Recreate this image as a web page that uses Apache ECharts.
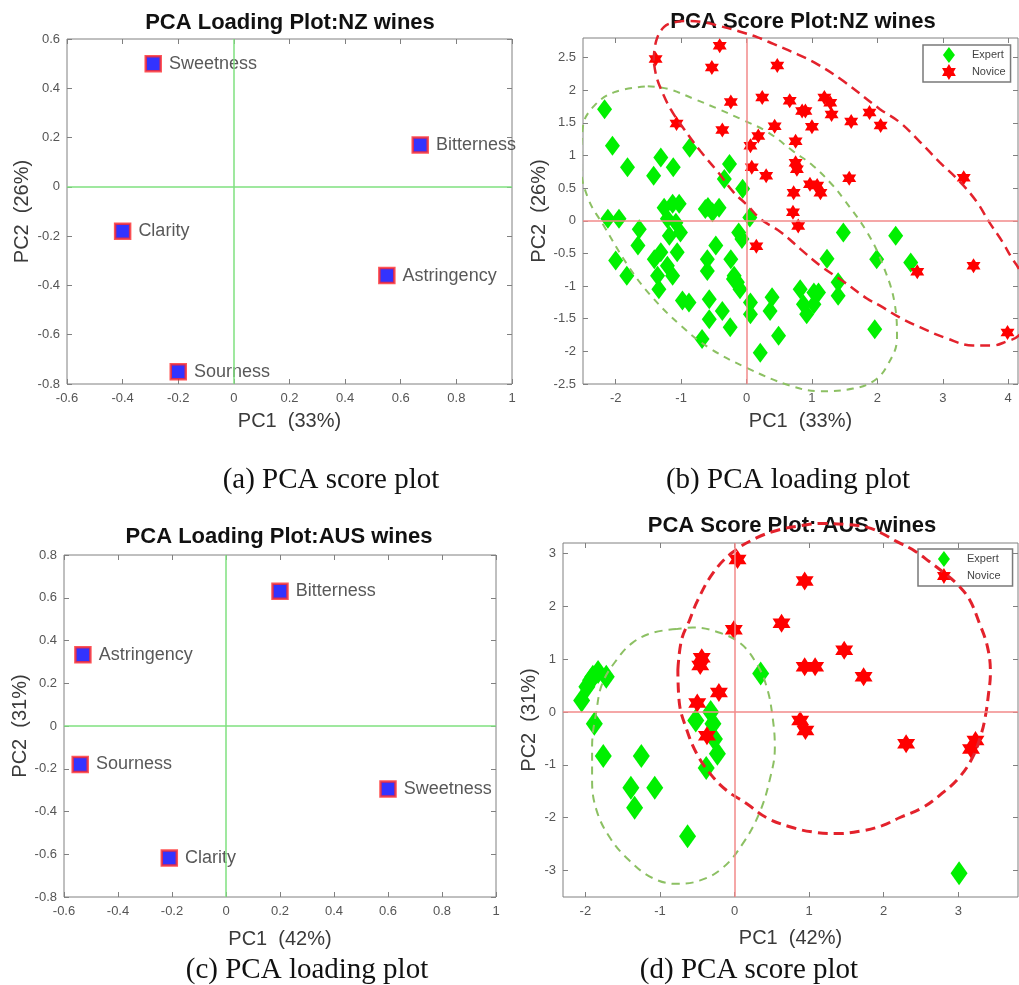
<!DOCTYPE html>
<html>
<head>
<meta charset="utf-8">
<script src="https://cdn.jsdelivr.net/npm/echarts@6/dist/echarts.min.js"></script>
<style>
  html, body { margin: 0; padding: 0; background: #fff; }
  #chart { width: 1019px; height: 985px; }
</style>
</head>
<body>
<div id="chart"></div>
<script>
// ---- data ----
const nzLoadNames = ['Sweetness', 'Bitterness', 'Clarity', 'Astringency', 'Sourness'];
const nzLoadPc1 = [-0.29, 0.67, -0.40, 0.55, -0.20];
const nzLoadPc2 = [0.50, 0.17, -0.18, -0.36, -0.75];

const ausLoadNames = ['Bitterness', 'Astringency', 'Sourness', 'Sweetness', 'Clarity'];
const ausLoadPc1 = [0.20, -0.53, -0.54, 0.60, -0.21];
const ausLoadPc2 = [0.63, 0.333, -0.18, -0.295, -0.618];

const nzExpert = [
  [-2.17, 1.71], [-2.05, 1.15], [-1.82, 0.82], [-1.31, 0.97], [-1.12, 0.82], [-1.42, 0.69], [-0.87, 1.12],
  [-0.26, 0.87], [-0.34, 0.64], [-0.06, 0.49], [-2.12, 0.03], [-1.95, 0.03], [-1.64, -0.13], [-1.66, -0.38],
  [-1.26, 0.2], [-1.13, 0.26], [-1.21, 0.03], [-1.08, -0.03], [-1.01, -0.18], [-1.18, -0.23], [-1.31, -0.48],
  [-1.21, -0.69], [-1.36, -0.84], [-1.13, -0.84], [-1.34, -1.05], [-2.0, -0.61], [-1.83, -0.84], [-0.98, -1.22],
  [-0.88, -1.25], [-0.63, 0.18], [-0.52, 0.13], [-0.42, 0.2], [-0.47, -0.38], [-0.6, -0.77], [-0.24, -0.59],
  [-0.12, -0.18], [-0.07, -0.28], [0.05, 0.05], [-0.19, -0.84], [-0.1, -1.05], [-0.57, -1.2], [-0.37, -1.38],
  [-0.57, -1.51], [-0.25, -1.63], [-0.68, -1.81], [0.06, -1.25], [0.06, -1.43], [0.39, -1.17], [0.36, -1.38],
  [0.49, -1.76], [0.21, -2.02], [0.82, -1.05], [1.03, -1.1], [1.1, -1.1], [0.87, -1.28], [0.92, -1.43],
  [1.03, -1.28], [1.23, -0.58], [1.48, -0.18], [1.4, -0.94], [1.4, -1.15], [2.28, -0.23], [1.99, -0.59],
  [2.51, -0.64], [1.96, -1.66], [-1.06, -0.48], [-1.41, -0.59], [-0.6, -0.59], [-1.03, 0.26], [-0.14, -0.94],
  [-0.59, 0.21], [-0.2, -0.89]
];
const nzNovice = [
  [-1.39, 2.48], [-0.41, 2.68], [-0.53, 2.35], [0.47, 2.38], [-0.24, 1.82], [0.24, 1.89], [0.66, 1.84],
  [0.85, 1.68], [0.9, 1.68], [1.19, 1.89], [1.28, 1.81], [1.3, 1.63], [1.88, 1.66], [2.05, 1.46], [1.6, 1.52],
  [1.0, 1.44], [0.43, 1.45], [-1.07, 1.49], [-0.37, 1.39], [0.18, 1.3], [0.06, 1.15], [0.75, 1.22],
  [0.75, 0.89], [0.77, 0.79], [0.08, 0.82], [0.3, 0.69], [1.57, 0.65], [3.32, 0.66], [0.97, 0.56],
  [1.08, 0.54], [1.13, 0.43], [0.72, 0.43], [0.71, 0.13], [0.79, -0.08], [0.15, -0.39], [2.61, -0.78],
  [3.47, -0.69], [3.99, -1.71]
];
// confidence ellipses, outline points
const nzExpertEllipse = [
  [-1.51, 2.06], [-1.2, 2.02], [-0.81, 1.87], [-0.45, 1.72], [-0.09, 1.56], [0.32, 1.36], [0.72, 1.06],
  [1.02, 0.84], [1.32, 0.54], [1.48, 0.34], [1.84, -0.17], [2.09, -0.69], [2.27, -1.3], [2.3, -1.8],
  [2.15, -2.22], [1.95, -2.45], [1.63, -2.57], [1.13, -2.61], [0.65, -2.52], [0.02, -2.26], [-0.55, -1.96],
  [-1.0, -1.61], [-1.46, -1.15], [-1.81, -0.69], [-2.18, -0.08], [-2.42, 0.34], [-2.53, 0.84], [-2.5, 1.45],
  [-2.33, 1.76], [-2.02, 1.97], [-1.51, 2.06]
];
const nzNoviceEllipse = [
  [-1.42, 2.45], [-1.38, 2.76], [-1.26, 2.97], [-1.1, 3.04], [-0.9, 3.06], [-0.65, 3.04], [-0.4, 2.98],
  [-0.14, 2.91], [0.17, 2.81], [0.41, 2.71], [0.78, 2.55], [1.08, 2.4], [1.48, 2.14], [2.04, 1.71],
  [2.34, 1.51], [2.65, 1.21], [2.95, 0.9], [3.26, 0.6], [3.52, 0.29], [3.71, -0.02], [3.91, -0.32],
  [4.06, -0.58], [4.16, -0.73], [4.3, -1.1], [4.3, -1.5], [4.16, -1.76], [3.97, -1.85], [3.76, -1.91],
  [3.46, -1.91], [3.06, -1.8], [2.65, -1.63], [2.34, -1.48], [2.04, -1.3], [1.84, -1.19], [1.48, -0.93],
  [1.13, -0.69], [0.82, -0.43], [0.52, -0.17], [0.21, 0.03], [0.02, 0.23], [-0.2, 0.44], [-0.44, 0.75],
  [-0.7, 1.06], [-0.96, 1.41], [-1.16, 1.71], [-1.31, 2.02], [-1.38, 2.22], [-1.42, 2.45]
];

const ausExpert = [
  [0.35, 0.73], [-2.05, 0.22], [-1.98, 0.48], [-1.9, 0.67], [-1.83, 0.76], [-1.72, 0.67], [-1.93, 0.6],
  [-1.88, -0.22], [-1.76, -0.83], [-1.25, -0.83], [-1.39, -1.43], [-1.07, -1.43], [-1.34, -1.81],
  [-0.63, -2.35], [-0.52, -0.16], [-0.32, 0.0], [-0.29, -0.22], [-0.27, -0.51], [-0.23, -0.79],
  [-0.38, -1.06], [3.01, -3.05]
];
const ausNovice = [
  [0.04, 2.89], [0.94, 2.48], [-0.01, 1.56], [0.63, 1.68], [1.47, 1.17], [-0.44, 1.03], [-0.46, 0.88],
  [0.94, 0.86], [1.08, 0.86], [1.73, 0.67], [-0.21, 0.37], [-0.5, 0.17], [0.88, -0.16], [0.95, -0.35],
  [-0.37, -0.45], [2.3, -0.6], [3.23, -0.54], [3.17, -0.7]
];
const ausExpertEllipse = [
  [-0.78, 1.57], [-1.1, 1.5], [-1.37, 1.31], [-1.58, 0.99], [-1.77, 0.55], [-1.85, 0.04], [-1.91, -0.67],
  [-1.91, -1.29], [-1.85, -1.86], [-1.67, -2.38], [-1.41, -2.81], [-1.1, -3.14], [-0.78, -3.25],
  [-0.47, -3.19], [-0.16, -2.95], [0.11, -2.49], [0.33, -1.92], [0.47, -1.29], [0.54, -0.67], [0.51, -0.1],
  [0.43, 0.48], [0.29, 0.93], [0.07, 1.31], [-0.24, 1.52], [-0.56, 1.6], [-0.78, 1.57]
];
const ausNoviceEllipse = [
  [-0.76, 0.8], [-0.71, 1.37], [-0.6, 1.75], [-0.5, 2.1], [-0.29, 2.63], [-0.03, 3.02], [0.3, 3.3],
  [0.6, 3.45], [0.9, 3.53], [1.18, 3.57], [1.5, 3.55], [1.77, 3.5], [1.98, 3.38], [2.17, 3.23], [2.38, 3.08],
  [2.61, 2.85], [2.84, 2.6], [3.0, 2.4], [3.15, 2.13], [3.28, 1.69], [3.39, 1.24], [3.43, 0.74], [3.4, 0.29],
  [3.36, -0.1], [3.31, -0.4], [3.19, -0.86], [3.01, -1.24], [2.78, -1.54], [2.52, -1.81], [2.21, -2.0],
  [1.98, -2.15], [1.7, -2.25], [1.37, -2.3], [1.05, -2.27], [0.74, -2.17], [0.43, -2.0], [0.16, -1.73],
  [-0.11, -1.48], [-0.33, -1.16], [-0.51, -0.78], [-0.64, -0.34], [-0.74, 0.17], [-0.76, 0.8]
];

// tick labels
const loadXTicks = [-0.6, -0.4, -0.2, 0, 0.2, 0.4, 0.6, 0.8, 1];
const nzLoadYTicks = [-0.8, -0.6, -0.4, -0.2, 0, 0.2, 0.4, 0.6];
const ausLoadYTicks = [-0.8, -0.6, -0.4, -0.2, 0, 0.2, 0.4, 0.6, 0.8];
const nzScoreXTicks = [-2, -1, 0, 1, 2, 3, 4];
const nzScoreYTicks = [-2.5, -2, -1.5, -1, -0.5, 0, 0.5, 1, 1.5, 2, 2.5];
const ausScoreXTicks = [-2, -1, 0, 1, 2, 3];
const ausScoreYTicks = [-3, -2, -1, 0, 1, 2, 3];

// ---- chart ----
const FONT = '"Liberation Sans", Arial, sans-serif';
const SERIF = '"Liberation Serif", "Times New Roman", serif';
const STAR = 'path://M0,-10L2.89,-5L8.66,-5L5.77,0L8.66,5L2.89,5L0,10L-2.89,5L-8.66,5L-5.77,0L-8.66,-5L-2.89,-5Z';
const DIAMOND = 'path://M0,-10L7.5,0L0,10L-7.5,0Z';

const panels = [
  { left: 67, top: 39, width: 445, height: 345, x: [-0.6, 1], y: [-0.8, 0.6], xt: loadXTicks, yt: nzLoadYTicks,
    xName: 'PC1  (33%)', yName: 'PC2  (26%)', xGap: 27, yGap: 35, cross: '#7fe07f' },
  { left: 583, top: 38, width: 435, height: 346, x: [-2.5, 4.15], y: [-2.5, 2.8], xt: nzScoreXTicks, yt: nzScoreYTicks,
    xName: 'PC1  (33%)', yName: 'PC2  (26%)', xGap: 27, yGap: 32, cross: '#f28a8a' },
  { left: 64, top: 555, width: 432, height: 342, x: [-0.6, 1], y: [-0.8, 0.8], xt: loadXTicks, yt: ausLoadYTicks,
    xName: 'PC1  (42%)', yName: 'PC2  (31%)', xGap: 32, yGap: 31, cross: '#7fe07f' },
  { left: 563, top: 543, width: 455, height: 354, x: [-2.3, 3.8], y: [-3.5, 3.2], xt: ausScoreXTicks, yt: ausScoreYTicks,
    xName: 'PC1  (42%)', yName: 'PC2  (31%)', xGap: 31, yGap: 24, cross: '#f28a8a' }
];

const grid = [], xAxis = [], yAxis = [], series = [];
const tickStyle = { color: '#808080', width: 1 };

panels.forEach(function (p, i) {
  grid.push({ left: p.left, top: p.top, width: p.width, height: p.height, show: true,
    borderColor: '#808080', borderWidth: 1, backgroundColor: 'transparent' });
  ['bottom', 'top'].forEach(function (pos) {
    const main = pos === 'bottom';
    xAxis.push({
      gridIndex: i, type: 'value', position: pos, min: p.x[0], max: p.x[1],
      axisLine: { show: false, onZero: false }, splitLine: { show: false },
      axisTick: { show: true, inside: true, length: 5, customValues: p.xt, lineStyle: tickStyle },
      axisLabel: { show: main, customValues: p.xt, fontSize: 13, color: '#555', margin: 8, fontFamily: FONT },
      name: main ? p.xName : '', nameLocation: 'middle', nameGap: p.xGap,
      nameTextStyle: { fontSize: 20, color: '#3a3a3a', fontFamily: FONT }
    });
  });
  ['left', 'right'].forEach(function (pos) {
    const main = pos === 'left';
    yAxis.push({
      gridIndex: i, type: 'value', position: pos, min: p.y[0], max: p.y[1],
      axisLine: { show: false, onZero: false }, splitLine: { show: false },
      axisTick: { show: true, inside: true, length: 5, customValues: p.yt, lineStyle: tickStyle },
      axisLabel: { show: main, customValues: p.yt, fontSize: 13, color: '#555', margin: 7, fontFamily: FONT },
      name: main ? p.yName : '', nameLocation: 'middle', nameGap: p.yGap,
      nameTextStyle: { fontSize: 20, color: '#3a3a3a', fontFamily: FONT }
    });
  });
  // zero cross lines
  series.push({
    type: 'scatter', xAxisIndex: 2 * i, yAxisIndex: 2 * i, data: [], z: 1, silent: true,
    markLine: {
      silent: true, symbol: ['none', 'none'], label: { show: false }, animation: false,
      lineStyle: { color: p.cross, width: 1.5, type: 'solid' },
      data: [{ xAxis: 0 }, { yAxis: 0 }]
    }
  });
});

function loadingSeries(idx, names, pc1, pc2) {
  return {
    type: 'scatter', xAxisIndex: 2 * idx, yAxisIndex: 2 * idx, z: 3,
    symbol: 'rect', symbolSize: 15,
    itemStyle: { color: '#0000ff', borderColor: '#ff2a2a', borderWidth: 2.5 },
    label: { show: true, position: 'right', distance: 7, formatter: '{b}', fontSize: 18, color: '#2e2e2e', fontFamily: FONT },
    data: names.map(function (n, k) { return { name: n, value: [pc1[k], pc2[k]] }; })
  };
}
series.push(loadingSeries(0, nzLoadNames, nzLoadPc1, nzLoadPc2));
series.push(loadingSeries(2, ausLoadNames, ausLoadPc1, ausLoadPc2));

function groupSeries(idx, name, data, symbol, size, color) {
  return { name: name, type: 'scatter', xAxisIndex: 2 * idx, yAxisIndex: 2 * idx, z: 2,
    symbol: symbol, symbolSize: size, itemStyle: { color: color, opacity: 1 }, data: data };
}
series.push(groupSeries(1, 'Expert', nzExpert, DIAMOND, [15, 20], '#00f000'));
series.push(groupSeries(1, 'Novice', nzNovice, STAR, [14, 15], '#ff0000'));
series.push(groupSeries(3, 'Expert', ausExpert, DIAMOND, [17, 24], '#00f000'));
series.push(groupSeries(3, 'Novice', ausNovice, STAR, [18, 19], '#ff0000'));

function ellipseSeries(idx, data, color, width, dash) {
  return { type: 'line', xAxisIndex: 2 * idx, yAxisIndex: 2 * idx, z: 4, data: data, smooth: 0.4,
    showSymbol: false, symbol: 'none', clip: false, silent: true,
    lineStyle: { color: color, width: width, type: dash } };
}
series.push(ellipseSeries(1, nzExpertEllipse, '#8cc063', 2, [7, 6]));
series.push(ellipseSeries(1, nzNoviceEllipse, '#e3222c', 2.5, [10, 6]));
series.push(ellipseSeries(3, ausExpertEllipse, '#8cc063', 2, [8, 6]));
series.push(ellipseSeries(3, ausNoviceEllipse, '#e3222c', 3, [10, 6]));

function legendAt(left, top, padRight) {
  return {
    left: left, top: top, orient: 'vertical', selectedMode: false,
    itemWidth: 36, itemHeight: 16, itemGap: 1, padding: [2, padRight, 2, 19],
    borderColor: '#7a7a7a', borderWidth: 1.5, backgroundColor: 'transparent',
    textStyle: { fontSize: 11, color: '#444', fontFamily: FONT },
    data: [{ name: 'Expert', icon: DIAMOND }, { name: 'Novice', icon: STAR }]
  };
}

function label(text, x, y, font) {
  return { type: 'text', x: x, y: y, silent: true,
    style: { text: text, font: font, fill: '#111', align: 'center', verticalAlign: 'middle',
      textAlign: 'center', textVerticalAlign: 'middle' } };
}

const chart = echarts.init(document.getElementById('chart'), null, { renderer: 'canvas' });
chart.setOption({
  animation: false,
  backgroundColor: '#fff',
  textStyle: { fontFamily: FONT },
  grid: grid,
  xAxis: xAxis,
  yAxis: yAxis,
  legend: [legendAt(923, 45, 5), legendAt(918, 549, 12)],
  graphic: [
    label('PCA Loading Plot:NZ wines', 290, 23, 'bold 22px ' + FONT),
    label('PCA Score Plot:NZ wines', 803, 22, 'bold 22px ' + FONT),
    label('PCA Loading Plot:AUS wines', 279, 537, 'bold 22px ' + FONT),
    label('PCA Score Plot: AUS wines', 792, 526, 'bold 22px ' + FONT),
    label('(a) PCA score plot', 331, 480, '29px ' + SERIF),
    label('(b) PCA loading plot', 788, 480, '29px ' + SERIF),
    label('(c) PCA loading plot', 307, 970, '29px ' + SERIF),
    label('(d) PCA score plot', 749, 970, '29px ' + SERIF)
  ],
  series: series
});
</script>
</body>
</html>
